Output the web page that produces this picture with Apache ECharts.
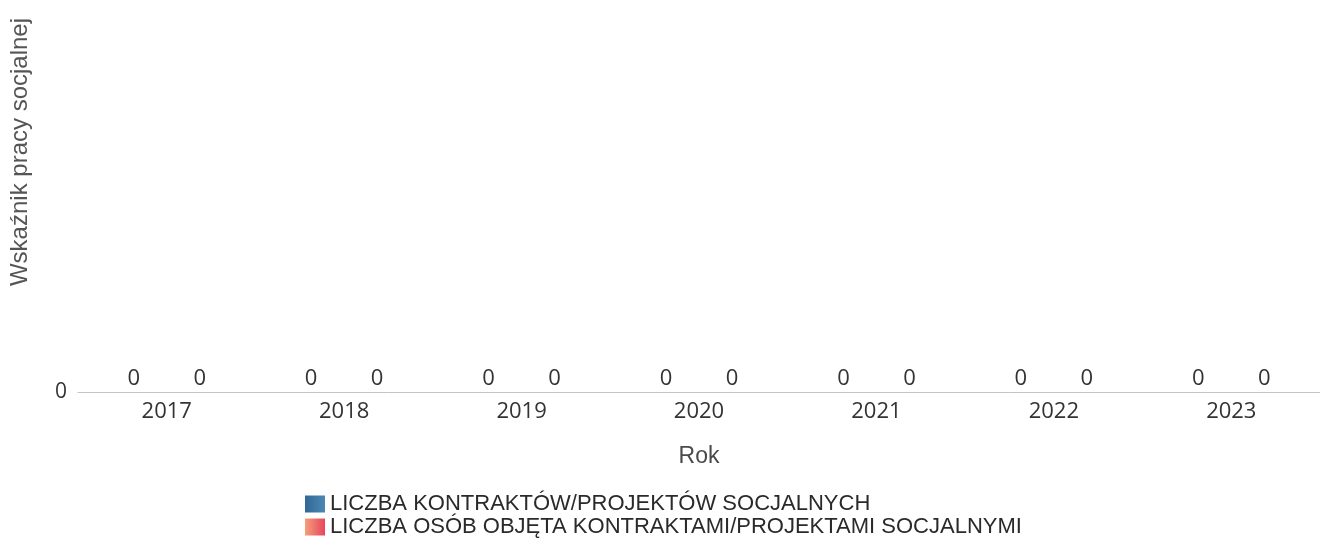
<!DOCTYPE html>
<html><head><meta charset="utf-8">
<script src="https://cdn.jsdelivr.net/npm/echarts@6/dist/echarts.min.js"></script>
<style>html,body{margin:0;padding:0;background:#fff}#c{width:1320px;height:540px}</style>
</head><body><div id="c"></div>
<script>
const years = ['2017','2018','2019','2020','2021','2022','2023'];
const kontrakty = [0,0,0,0,0,0,0];
const osoby = [0,0,0,0,0,0,0];
const seriesNames = ['LICZBA KONTRAKTÓW/PROJEKTÓW SOCJALNYCH','LICZBA OSÓB OBJĘTA KONTRAKTAMI/PROJEKTAMI SOCJALNYMI'];
const yTitle = 'Wskaźnik pracy socjalnej';

const chart = echarts.init(document.getElementById('c'));
const lbl = {show:true, position:'top', distance:2, color:'#333', fontFamily:'Open Sans', fontSize:22};
chart.setOption({
  animation:false,
  backgroundColor:'#fff',
  grid:{left:78, right:-10, top:0, bottom:148, containLabel:false},
  graphic:[{
    type:'text', x:20, y:152, rotation:Math.PI/2,
    style:{text:yTitle, fontFamily:'Liberation Sans', fontSize:24, fill:'#555', textAlign:'center', textVerticalAlign:'middle'}
  }],
  legend:{
    orient:'vertical', left:305, top:493, padding:0, itemWidth:20, itemHeight:17, itemGap:1,
    icon:'rect',
    textStyle:{fontFamily:'Liberation Sans', fontSize:22, color:'#2a2a2a'},
    data:seriesNames
  },
  xAxis:{
    type:'category', data:years,
    name:'Rok', nameLocation:'middle', nameGap:53,
    nameTextStyle:{fontFamily:'Liberation Sans', fontSize:23, color:'#4a4a4a'},
    axisLine:{lineStyle:{color:'#c4c4c4', width:1}},
    axisTick:{show:false},
    axisLabel:{fontFamily:'Open Sans', fontSize:22, color:'#333', margin:9}
  },
  yAxis:{
    type:'value', min:0, max:1, interval:1,
    splitLine:{show:false}, axisLine:{show:false}, axisTick:{show:false},
    axisLabel:{fontFamily:'Open Sans', fontSize:21, color:'#333', margin:11,
      formatter:v=> v===0 ? '0' : ''}
  },
  series:[
    {name:seriesNames[0], type:'bar', data:kontrakty, barWidth:50, barGap:'32%',
     itemStyle:{color:new echarts.graphic.LinearGradient(0,0,1,0,[{offset:0,color:'#2f6896'},{offset:1,color:'#4d87b3'}])},
     label:lbl},
    {name:seriesNames[1], type:'bar', data:osoby, barWidth:50,
     itemStyle:{color:new echarts.graphic.LinearGradient(0,0,1,0,[{offset:0,color:'#f3a07a'},{offset:1,color:'#e9455e'}])},
     label:lbl}
  ]
});
</script></body></html>
